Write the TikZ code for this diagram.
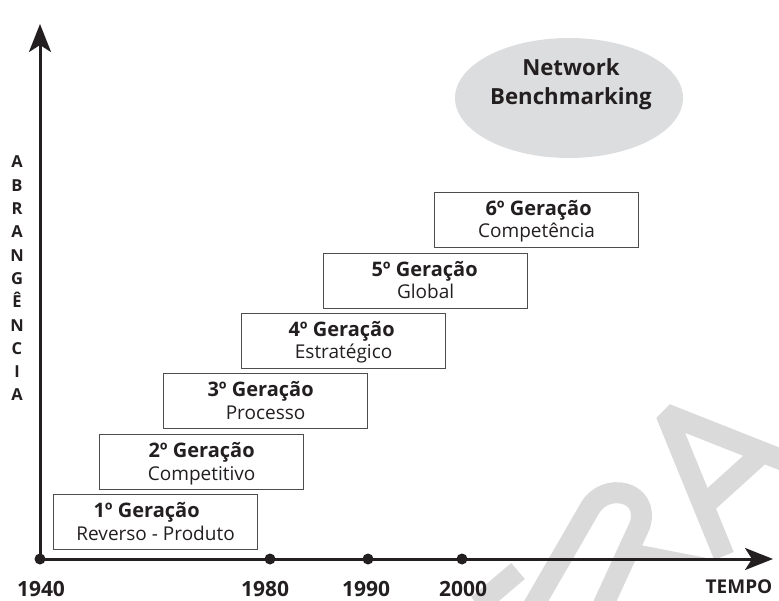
\documentclass[tikz,border=0pt]{standalone}
\usepackage{fontspec}
\setmainfont{Open Sans}
\usetikzlibrary{arrows.meta,shapes.geometric}
\definecolor{ink}{HTML}{231F20}
\definecolor{boxline}{HTML}{4D4D4F}
\definecolor{bubble}{HTML}{DCDDDE}
\definecolor{wm}{HTML}{DADADA}
\begin{document}
\begin{tikzpicture}[x=1pt,y=-1pt,
  axis/.style={draw=ink,line width=3pt,-{Stealth[length=28pt,width=22pt,inset=7pt]}},
  yeardot/.style={circle,fill=ink,inner sep=0pt,minimum size=11pt},
  genbox/.style={draw=boxline,line width=1.2pt,fill=white,anchor=north west,
    minimum width=204pt,minimum height=55pt,inner sep=0pt},
  gentitle/.style={anchor=base,inner sep=0pt,text=ink,font=\fontsize{20}{24}\selectfont\bfseries},
  gensub/.style={anchor=base,inner sep=0pt,text=ink,font=\fontsize{19}{23}\selectfont},
  yearlbl/.style={anchor=base,inner sep=0pt,text=ink,font=\fontsize{21}{25}\selectfont\bfseries},
  axisword/.style={anchor=base,inner sep=0pt,text=ink,font=\fontsize{19}{23}\selectfont\bfseries},
  vletter/.style={anchor=base,inner sep=0pt,text=ink,font=\fontsize{16.5}{20}\selectfont\bfseries},
  bubbletext/.style={anchor=base,inner sep=0pt,text=ink,font=\fontsize{22.2}{26}\selectfont\bfseries},
  wmstroke/.style={draw=wm,line width=21pt}
]
\useasboundingbox (0,0) rectangle (779,601);

% faint watermark lettering in the lower right
\begin{scope}
  \clip (0,0) rectangle (779,601);
  \draw[wmstroke] (478,605) -- (518,571);
  \draw[wmstroke] (530,612) -- (590,508) .. controls (605,482) and (650,490) .. (640,525) -- (600,612);
  \fill[wm] (622,538) -- (640,545) -- (712,559) -- (622,559) -- cycle;
  \draw[wmstroke,line join=bevel] (724,556) -- (666,414) -- (800,467);
  \draw[wmstroke] (700,509) -- (763,452);
\end{scope}

% bubble
\node[ellipse,fill=bubble,minimum width=228pt,minimum height=120pt,inner sep=0pt] (nb) at (569,98) {};
\node[bubbletext] (nbt1) at (571,75.5) {Network};
\node[bubbletext] (nbt2) at (571,105) {Benchmarking};

% axes
\node[yeardot] (d1940) at (40,559) {};
\coordinate (ytip) at (40,24);
\coordinate (xtip) at (773,559);
\draw[axis] (d1940.center) -- (ytip);
\draw[axis] (d1940.center) -- (xtip);
\node[yeardot] (d1980) at (270,559) {};
\node[yeardot] (d1990) at (368,559) {};
\node[yeardot] (d2000) at (462,559) {};

\node[yearlbl] (y1940) at (41,596.5) {1940};
\node[yearlbl] (y1980) at (265,596.5) {1980};
\node[yearlbl] (y1990) at (366,596.5) {1990};
\node[yearlbl] (y2000) at (463,596.5) {2000};
\node[axisword] (tempo) at (739,593) {TEMPO};

% vertical axis caption
\foreach \l [count=\i] in {A,B,R,A,N,G,Ê,N,C,I,A}
  \node[vletter] (v\i) at (17,{168+(\i-1)*23.3}) {\l};

% generation boxes
\foreach \n/\x/\y/\dx/\sub in {1/53/494/-9/Reverso - Produto,2/99/434/0/Competitivo,3/163/373/-5/Processo,
    4/241/313/-2/Estratégico,5/323/253/-1/Global,6/434/192/2/Competência}{
  \node[genbox] (g\n) at (\x,\y) {};
  \node[gentitle] (t\n) at ([xshift=\dx pt,yshift=-23.3pt]g\n.north) {{\n}º Geração};
  \node[gensub] (s\n) at ([yshift=-46pt]g\n.north) {\sub};
}
\end{tikzpicture}
\end{document}
